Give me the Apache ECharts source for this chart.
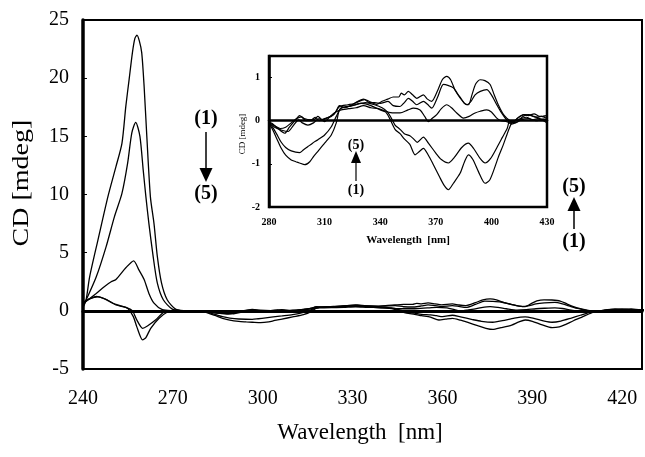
<!DOCTYPE html>
<html><head><meta charset="utf-8">
<script src="https://cdn.jsdelivr.net/npm/echarts/dist/echarts.min.js"></script>
<style>html,body{margin:0;padding:0;background:#fff}#c{width:645px;height:457px}</style>
</head><body><div id="c"></div>
<script>
// ---- data (wavelength nm, CD mdeg) ----
const xTickValues = [240, 270, 300, 330, 360, 390, 420];
const yTickValues = [-5, 0, 5, 10, 15, 20, 25];
const insetXTickValues = [280, 310, 340, 370, 400, 430];
const insetYTickValues = [-2, -1, 0, 1];

const curve1 = [[240,0.3],[241,0.9],[242.2,2.9],[245,6.1],[248.3,9.8],[251,12.4],[253,14.4],[254.3,17.6],[255.4,19.9],[256.5,22.2],[257.3,23.4],[258,23.7],[258.8,23.2],[259.6,22.2],[260.4,19.3],[261.3,15.0],[262.5,9.8],[263.7,7.5],[264.8,4.7],[266.2,2.4],[268.1,0.95],[270.9,0.15],[274,0],[278,-0.05],[281,-0.13],[284,-0.4],[286.6,-0.64],[289,-0.8],[292,-0.91],[294.5,-0.95],[296.5,-0.98],[299.3,-1.02],[302,-0.95],[304,-0.83],[306.4,-0.71],[310,-0.52],[313.6,-0.33],[316.3,-0.05],[318.1,0.26],[321,0.32],[325,0.35],[330,0.4],[335,0.35],[340,0.25],[343,0.2],[345,0.06],[348,-0.2],[350.7,-0.3],[353,-0.42],[356,-0.55],[358.8,-0.79],[361,-0.72],[363.3,-0.64],[366,-0.8],[368.7,-1.02],[372,-1.3],[374.5,-1.5],[376.8,-1.6],[379.5,-1.45],[383.1,-1.22],[385.5,-0.95],[387.6,-0.79],[390,-0.9],[393,-1.18],[396.6,-1.45],[399,-1.38],[401,-1.18],[403.7,-0.85],[406.4,-0.56],[409,-0.25],[411,-0.05],[413,0],[416,0.05],[419,0.08],[422,0.02],[425,0.05],[428,0.03],[430,0.02]];

const curve2 = [[240,0.4],[241,0.9],[244.4,2.9],[247.7,5.5],[250.5,8.1],[253,10.1],[254.9,12.7],[256.3,15.3],[257.6,16.2],[259,15.0],[260.1,12.1],[261,9.8],[262,7.5],[263.4,4.7],[264.8,2.4],[266.8,0.95],[269.8,0.15],[273,0],[277,-0.05],[281,-0.1],[284,-0.3],[286.6,-0.5],[289,-0.62],[292,-0.7],[296.5,-0.74],[298.5,-0.68],[301,-0.6],[303.5,-0.52],[306.4,-0.44],[310,-0.33],[313.6,-0.14],[316.3,0.1],[319,0.3],[323,0.33],[327,0.38],[332,0.42],[337,0.37],[341,0.3],[344,0.2],[346,0.06],[348,-0.1],[350.7,-0.2],[353,-0.3],[356,-0.35],[358,-0.42],[360,-0.5],[363.3,-0.38],[366,-0.52],[370,-0.75],[373,-0.9],[376.8,-0.98],[380,-0.85],[384,-0.62],[387.6,-0.52],[390.5,-0.65],[394,-0.88],[396.6,-0.98],[399.5,-0.88],[403,-0.62],[406,-0.38],[408.5,-0.18],[410,0],[413,-0.05],[416,0.02],[420,0.05],[424,0.0],[428,0.04],[430,0.03]];

const curve3 = [[240,0.6],[241,0.8],[244.4,1.5],[247.2,2.1],[249.4,2.5],[251,2.7],[254.3,3.7],[256.9,4.3],[258.7,3.5],[260.4,2.7],[262,1.5],[263.7,0.66],[266.5,0.1],[270,0],[275,-0.05],[280,-0.05],[283,-0.15],[287,-0.22],[290.3,-0.25],[293,-0.12],[296,0.02],[298,-0.05],[301,-0.1],[304,-0.05],[307,0.05],[310,-0.02],[313,0.1],[316,0.2],[319,0.25],[323,0.28],[327,0.3],[331,0.35],[335,0.3],[339,0.28],[343,0.22],[347,0.18],[350.7,0.18],[355,0.25],[358,0.29],[361.5,0.25],[364,0.1],[366,-0.02],[368,0.05],[370.5,0.14],[373,0.28],[375.9,0.37],[378.5,0.3],[381.3,0.18],[384.9,0.06],[388,0.1],[391.2,0.18],[394,0.22],[397.5,0.25],[400,0.2],[402.9,0.06],[405,0.0],[408.3,-0.02],[411,-0.08],[414,-0.02],[417,0.1],[420,0.14],[423,0.1],[426,0.05],[430,-0.05]];

const curve4 = [[240,0.7],[242,1.0],[245,1.2],[248,0.95],[251,0.5],[254.3,0.3],[256.5,0.0],[258,-0.8],[259.9,-1.5],[261.5,-1.3],[264.3,-0.77],[266.5,-0.2],[268,0],[272,0.02],[276,-0.05],[280,-0.05],[283,-0.12],[286,-0.18],[289,-0.15],[292,-0.05],[295,0.05],[297.4,0.09],[300,0.0],[302.8,0.0],[305,0.05],[306.4,0.1],[309,0.02],[312,0.08],[315,0.15],[318.1,0.33],[322.6,0.37],[326,0.4],[331.6,0.49],[334,0.42],[337,0.42],[340,0.4],[344.2,0.45],[347,0.35],[350.7,0.33],[353,0.42],[355.2,0.52],[357.5,0.45],[359.7,0.37],[363.3,0.45],[365.5,0.38],[367.8,0.29],[371,0.55],[374.1,0.84],[376.5,0.82],[379.5,0.76],[383,0.55],[386.7,0.37],[389,0.45],[391.2,0.6],[394,0.68],[397.5,0.72],[400,0.6],[402.9,0.37],[405.5,0.18],[408.3,0.02],[411,-0.05],[414,0.05],[417.6,0.14],[421,0.12],[424,0.08],[427,0.1],[430,0.05]];

const curve5 = [[240,0.7],[242,1.0],[244.5,1.25],[247,1.05],[250,0.65],[253,0.4],[255,0.2],[256.8,-0.5],[258,-1.4],[259.9,-2.5],[261,-2.3],[262.6,-1.5],[265.4,-0.63],[268.2,-0.1],[270,0],[274,0],[278,-0.05],[281,-0.05],[284,-0.15],[288.5,-0.29],[291,-0.15],[294,0.0],[296.5,0.12],[299,0.05],[302.7,0.02],[305,0.08],[307,0.0],[310,0.05],[313.6,0.1],[316,0.2],[318,0.35],[321,0.3],[324,0.35],[328,0.45],[331,0.5],[334,0.45],[338,0.38],[341,0.45],[344,0.5],[347,0.55],[350,0.55],[351.4,0.64],[353,0.6],[355.2,0.68],[357.5,0.6],[359.7,0.52],[363.3,0.6],[365.5,0.5],[367.8,0.45],[371,0.7],[373.5,0.95],[375.9,1.03],[378,0.95],[380.5,0.7],[383.1,0.53],[385.5,0.4],[387.6,0.37],[389.5,0.6],[391.5,0.85],[393.9,0.95],[396.5,0.93],[399.3,0.84],[401.5,0.6],[403.7,0.37],[406,0.18],[408.3,0.06],[411.8,-0.05],[414,0.06],[417.6,0.14],[420,0.12],[423,0.16],[426,0.1],[430,0.12]];

const curves = [curve1, curve2, curve3, curve4, curve5];

// ---- chart ----
const SERIF = "'Liberation Serif','Times New Roman',serif";
const chart = echarts.init(document.getElementById('c'), null, {renderer: 'canvas'});

const mainSeries = curves.map((c, i) => ({
  type: 'line', xAxisIndex: 0, yAxisIndex: 0, data: c,
  showSymbol: false, smooth: 0.25, animation: false,
  lineStyle: {color: '#000', width: 1.3},
  markLine: i === 0 ? {silent: true, symbol: ['none', 'none'], label: {show: false},
    lineStyle: {color: '#000', width: 1, type: 'solid'}, data: [{yAxis: 0}]} : undefined
}));
const insetSeries = curves.map((c, i) => ({
  type: 'line', xAxisIndex: 1, yAxisIndex: 1, data: c.filter(p => p[0] >= 276),
  showSymbol: false, smooth: 0.25, animation: false, clip: true, z: 5,
  lineStyle: {color: '#000', width: 1.2},
  markLine: i === 0 ? {silent: true, symbol: ['none', 'none'], label: {show: false},
    lineStyle: {color: '#000', width: 1.2, type: 'solid'}, data: [{yAxis: 0}]} : undefined
}));

function arrow(x, yTail, yTip, headLen, headW, lw) {
  const dir = yTip > yTail ? 1 : -1;
  const yBase = yTip - dir * headLen;
  return [
    {type: 'line', shape: {x1: x, y1: yTail, x2: x, y2: yBase}, style: {stroke: '#000', lineWidth: lw}, z: 10},
    {type: 'polygon', shape: {points: [[x - headW / 2, yBase], [x + headW / 2, yBase], [x, yTip]]}, style: {fill: '#000'}, z: 10}
  ];
}
function label(text, x, y, font, extra) {
  return Object.assign({type: 'text', x: x, y: y, z: 10,
    style: {text: text, font: font, fill: '#000', align: 'center', verticalAlign: 'middle'}}, extra || {});
}

const option = {
  backgroundColor: '#fff',
  animation: false,
  grid: [
    {left: 83, top: 20, right: -2, bottom: 88, show: true, borderColor: '#000', borderWidth: 2, backgroundColor: 'transparent'},
    {left: 269, top: 56, right: 98, bottom: 250, show: true, borderColor: '#000', borderWidth: 2.5, backgroundColor: '#fff', z: 4}
  ],
  xAxis: [
    {type: 'value', gridIndex: 0, min: 240, max: 426.6, interval: 30,
     axisLine: {lineStyle: {color: '#000', width: 3}}, axisTick: {show: false}, splitLine: {show: false},
     axisLabel: {color: '#000', fontFamily: SERIF, fontSize: 20, margin: 20,
       formatter: v => xTickValues.includes(v) ? String(v) : ''}},
    {type: 'value', gridIndex: 1, min: 280, max: 430, interval: 30, z: 5,
     axisLine: {lineStyle: {color: '#000', width: 2.5}}, axisTick: {show: false}, splitLine: {show: false},
     axisLabel: {color: '#000', fontFamily: SERIF, fontSize: 10, fontWeight: 'bold', margin: 10,
       formatter: v => insetXTickValues.includes(v) ? String(v) : ''}}
  ],
  yAxis: [
    {type: 'value', gridIndex: 0, min: -5, max: 25, interval: 5,
     axisLine: {show: true, lineStyle: {color: '#000', width: 3.5}},
     axisTick: {show: true, inside: true, length: 4, lineStyle: {color: '#000', width: 1}},
     splitLine: {show: false},
     axisLabel: {color: '#000', fontFamily: SERIF, fontSize: 20, margin: 14,
       formatter: v => yTickValues.includes(v) ? String(v) : ''}},
    {type: 'value', gridIndex: 1, min: -2, max: 1.5, interval: 1, z: 5,
     axisLine: {show: true, lineStyle: {color: '#000', width: 2.5}},
     axisTick: {show: true, inside: true, length: 3, lineStyle: {color: '#000', width: 1}},
     splitLine: {show: false},
     axisLabel: {color: '#000', fontFamily: SERIF, fontSize: 10, fontWeight: 'bold', margin: 9,
       formatter: v => insetYTickValues.includes(v) ? String(v) : ''}}
  ],
  series: mainSeries.concat(insetSeries),
  graphic: [
    label('CD [mdeg]', 22, 183, '28px ' + SERIF, {rotation: Math.PI / 2, scaleY: 0.82}),
    label('Wavelength  [nm]', 360, 433, '23px ' + SERIF),
    label('CD [mdeg]', 243, 134, '9px ' + SERIF, {rotation: Math.PI / 2}),
    label('Wavelength  [nm]', 408, 240, 'bold 11px ' + SERIF),
    label('(1)', 206, 119, 'bold 20px ' + SERIF),
    ...arrow(206, 132, 182, 14, 13, 1.5),
    label('(5)', 206, 194, 'bold 20px ' + SERIF),
    label('(5)', 574, 187, 'bold 20px ' + SERIF),
    ...arrow(574, 229, 197, 14, 13, 1.5),
    label('(1)', 574, 242, 'bold 20px ' + SERIF),
    label('(5)', 356, 145, 'bold 14px ' + SERIF),
    ...arrow(356, 181, 151, 12, 10, 1.2),
    label('(1)', 356, 190, 'bold 14px ' + SERIF)
  ]
};
chart.setOption(option);
</script>
</body></html>
